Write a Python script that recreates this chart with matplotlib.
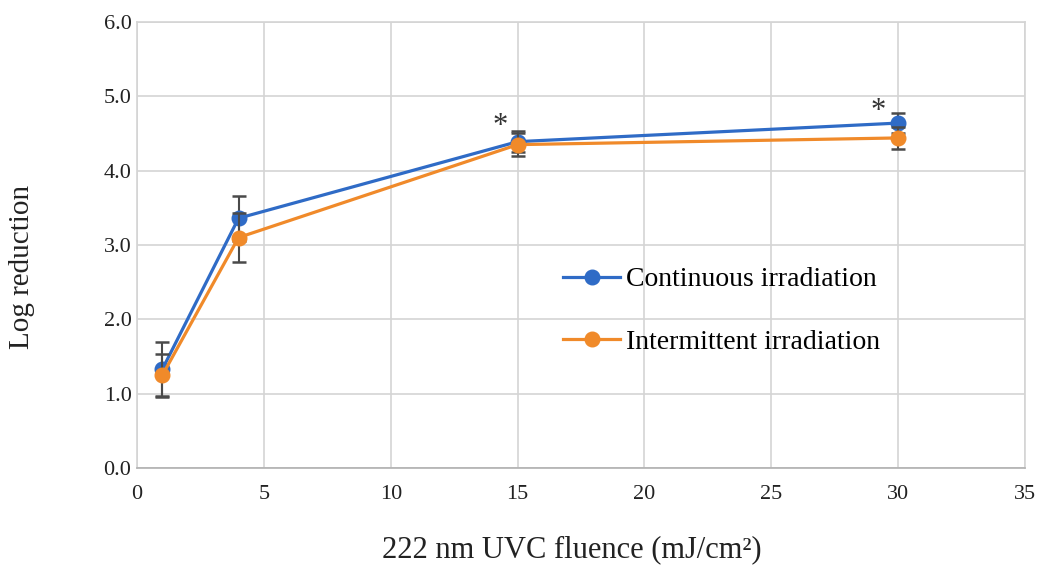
import numpy as np
import matplotlib.pyplot as plt

plt.rcParams['font.family'] = ['Liberation Serif', 'DejaVu Serif']

# fluence (mJ/cm2)
fluence = [1, 4, 15, 30]

# log reduction, means and SD
cont = [1.33, 3.36, 4.39, 4.64]
cont_err = [0.37, 0.30, 0.14, 0.14]
inter = [1.25, 3.10, 4.35, 4.44]
inter_err = [0.28, 0.33, 0.15, 0.15]

# significance marks
star_x = [14.3, 29.2]
star_y = [4.60, 4.80]

blue = '#2F6BC6'
orange = '#F08A2A'

fig = plt.figure(figsize=(10.43, 5.65), dpi=100)
ax = fig.add_axes([0.1314, 0.1717, 0.8514, 0.7894])

ax.errorbar(fluence, cont, yerr=cont_err, color=blue, marker='o', markersize=10.5,
            linewidth=2.3, ecolor='#4a4a4a', elinewidth=1.5, capsize=5, capthick=1.8,
            label='Continuous irradiation', zorder=3)
ax.errorbar(fluence, inter, yerr=inter_err, color=orange, marker='o', markersize=10.5,
            linewidth=2.3, ecolor='#4a4a4a', elinewidth=1.5, capsize=5, capthick=1.8,
            label='Intermittent irradiation', zorder=4)

for sx, sy in zip(star_x, star_y):
    ax.text(sx, sy, '*', fontsize=22, ha='center', va='center', color='#333333')

ax.set_xlim(0, 35)
ax.set_ylim(0, 6)
ax.set_xticks(np.arange(0, 36, 5))
ax.set_yticks(np.arange(0, 6.1, 1))
ax.set_yticklabels(['%.1f' % v for v in np.arange(0, 6.1, 1)])
ax.tick_params(length=0, labelsize=16, colors='#222222')
ax.tick_params(axis='x', pad=12)
ax.tick_params(axis='y', pad=4)

ax.grid(True, color='#d4d4d4', linewidth=1.2)
ax.set_axisbelow(True)
for s in ['top', 'left', 'right']:
    ax.spines[s].set_color('#d4d4d4')
    ax.spines[s].set_linewidth(1.2)
ax.spines['bottom'].set_color('#b0b0b0')
ax.spines['bottom'].set_linewidth(1.2)

ax.set_xlabel('222 nm UVC fluence (mJ/cm²)', fontsize=22, color='#222222')
ax.xaxis.set_label_coords(0.49, -0.15)
ax.xaxis.label.set_va('top')
ax.set_ylabel('Log reduction', fontsize=21, color='#222222')
ax.yaxis.label.set_va('center')
ax.yaxis.set_label_coords(-0.13, 0.45)

h, l = ax.get_legend_handles_labels()
h = [x[0] for x in h]
ax.legend(h, l, loc='center left', bbox_to_anchor=(0.48, 0.352), frameon=False,
          fontsize=20, labelspacing=1.35, handlelength=2.05, handletextpad=0.2,
          borderpad=0, borderaxespad=0)

fig.savefig('out.png', dpi=100)
